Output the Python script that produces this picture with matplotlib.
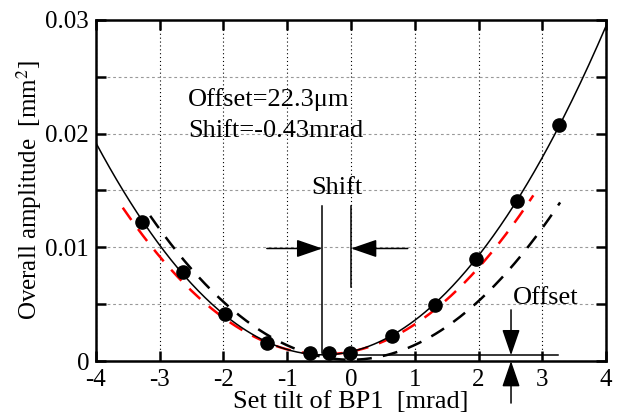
import matplotlib
matplotlib.use("Agg")
import matplotlib.pyplot as plt
import numpy as np

plt.rcParams['font.family'] = ['Liberation Serif', 'DejaVu Serif']
plt.rcParams['mathtext.fontset'] = 'stix'
plt.rcParams['axes.unicode_minus'] = False

# measured points
tilt = [-3.28, -2.63, -1.97, -1.32, -0.65, -0.34, -0.01, 0.65, 1.31, 1.96, 2.60, 3.27]
amp = [0.0122, 0.0078, 0.0041, 0.0016, 0.0007, 0.0007, 0.0007, 0.0022, 0.0049, 0.0090, 0.0141, 0.0208]

# samples
shifted_x = [-3.58, -3.15, -3.0, -2.48, -2.26, -1.85, -1.47, 1.47, 1.66, 1.84, 2.0, 2.21, 2.45, 2.86]
shifted_y = [0.0135, 0.0102, 0.0092, 0.0062, 0.0049, 0.0030, 0.0021, 0.0052, 0.0062, 0.0073, 0.0083, 0.0095, 0.0115, 0.0144]
ideal_x = [-3.15, -2.79, -2.48, -2.15, -1.75, -1.40, -1.0, 0.5, 0.87, 1.21, 1.6, 1.91, 2.26, 2.65, 2.92, 3.28]
ideal_y = [0.0128, 0.0101, 0.0079, 0.0059, 0.0041, 0.0026, 0.0013, 0.0004, 0.0011, 0.0021, 0.0034, 0.0048, 0.0068, 0.0091, 0.0111, 0.0139]

shift_lines = [-0.45, 0.0]
offset_x = 2.51
offset_level = 0.0005

fig = plt.figure(figsize=(6.18, 4.19), dpi=100)
ax = fig.add_axes([0.1553, 0.1384, 0.8253, 0.8139])

def fit_curve(xs, ys, lo, hi):
    p = np.polyfit(xs, ys, 2)
    xx = np.linspace(lo, hi, 300)
    return xx, np.polyval(p, xx)

xx, yy = fit_curve(tilt, amp, -4, 4)
ax.plot(xx, yy, color='black', lw=1.1, zorder=3)
xx, yy = fit_curve(shifted_x, shifted_y, min(shifted_x), max(shifted_x))
ax.plot(xx, yy, color='red', lw=1.8, dashes=(6, 4.5), zorder=2)
xx, yy = fit_curve(ideal_x, ideal_y, min(ideal_x), max(ideal_x))
ax.plot(xx, yy, color='black', lw=1.8, dashes=(6, 4.5), zorder=2)
ax.plot(tilt, amp, 'o', color='black', ms=9.5, zorder=4)

# shift markers
ax.plot([shift_lines[0]] * 2, [0.0007, 0.0136], color='black', lw=1.1)
ax.plot([shift_lines[1]] * 2, [0.0065, 0.0136], color='black', lw=1.1)
aprops = dict(arrowstyle='-|>,head_length=1.6,head_width=0.55', color='black',
              lw=1.1, mutation_scale=10, shrinkA=0, shrinkB=0)
ax.annotate('', xy=(shift_lines[0], 0.0099), xytext=(-1.32, 0.0099), arrowprops=aprops)
ax.annotate('', xy=(shift_lines[1], 0.0099), xytext=(0.89, 0.0099), arrowprops=aprops)
ax.text(-0.225, 0.0147, 'Shift', ha='center', va='baseline', fontsize=19)

# offset markers
ax.plot([0.0, 3.25], [offset_level] * 2, color='black', lw=1.1)
ax.annotate('', xy=(offset_x, offset_level), xytext=(offset_x, 0.0045), arrowprops=aprops)
ax.annotate('', xy=(offset_x, 0.0), xytext=(offset_x, -0.0037), arrowprops=aprops,
            annotation_clip=False)
ax.text(2.54, 0.0050, 'Offset', ha='left', va='baseline', fontsize=19)

ax.text(-2.56, 0.02243, 'Offset=22.3μm', ha='left', va='baseline', fontsize=19)
ax.text(-2.56, 0.0197, 'Shift=-0.43mrad', ha='left', va='baseline', fontsize=19)

ax.set_xlim(-4, 4)
ax.set_ylim(0, 0.03)
ax.set_xticks(np.arange(-4, 5, 1))
ax.set_xticklabels([str(v) for v in range(-4, 5)])
ax.set_yticks([0, 0.01, 0.02, 0.03])
ax.set_yticklabels(['0', '0.01', '0.02', '0.03'])
ax.set_yticks(np.arange(0.005, 0.03, 0.005), minor=True)

ax.xaxis.grid(True, which='major', color='black', ls=(0, (1, 2.5)), lw=0.8)
ax.yaxis.grid(True, which='both', color='#999999', ls=(0, (2.5, 2.5)), lw=0.8)

ax.tick_params(which='both', direction='in', top=True, right=True,
               length=7.2, width=1.8, labelsize=18)
ax.tick_params(axis='x', pad=6)
ax.tick_params(axis='y', pad=5)
for s in ax.spines.values():
    s.set_linewidth(1.8)

ax.set_xlabel('Set tilt of BP1  [mrad]', fontsize=19, labelpad=0)
ax.set_ylabel('Overall amplitude  [mm$^2$]', fontsize=18, labelpad=1)

fig.savefig('out.png', dpi=100)
